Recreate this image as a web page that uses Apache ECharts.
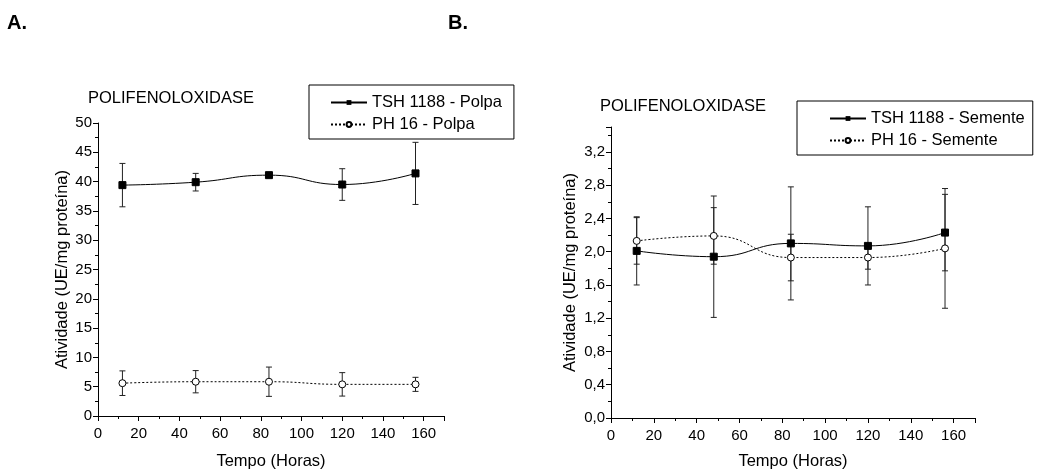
<!DOCTYPE html>
<html>
<head>
<meta charset="utf-8">
<script src="https://cdn.jsdelivr.net/npm/echarts@6/dist/echarts.min.js"></script>
<style>
html,body{margin:0;padding:0;background:#fff;}
#c{width:1039px;height:470px;}
</style>
</head>
<body>
<div id="c"></div>
<script>
// ---- data ----
const hours = [12, 48, 84, 120, 156];
// Panel A (Polpa)
const tshPolpa = [39.4, 39.9, 41.1, 39.5, 41.4];
const tshPolpaErr = [3.7, 1.5, 0.3, 2.7, 5.3];
const phPolpa = [5.6, 5.85, 5.85, 5.4, 5.4];
const phPolpaErr = [2.1, 1.9, 2.5, 2.0, 1.2];
// Panel B (Semente)
const tshSemente = [2.01, 1.94, 2.10, 2.07, 2.23];
const tshSementeErr = [0.41, 0.73, 0.68, 0.47, 0.46];
const phSemente = [2.13, 2.19, 1.93, 1.93, 2.04];
const phSementeErr = [0.28, 0.34, 0.28, 0.14, 0.72];
const seriesNamesA = ['TSH 1188 - Polpa', 'PH 16 - Polpa'];
const seriesNamesB = ['TSH 1188 - Semente', 'PH 16 - Semente'];
const titleText = 'POLIFENOLOXIDASE';
const yName = 'Atividade (UE/mg proteína)';
const xName = 'Tempo (Horas)';

const FONT = 'Liberation Sans, Arial, sans-serif';

function pts(vals) { return hours.map((h, i) => [h, vals[i]]); }
function errs(vals, e) { return hours.map((h, i) => [h, vals[i] - e[i], vals[i] + e[i]]); }

function errRender(params, api) {
  const x = api.value(0), lo = api.value(1), hi = api.value(2);
  const a = api.coord([x, hi]), b = api.coord([x, lo]);
  const w = 3;
  const st = { stroke: '#222', lineWidth: 1 };
  return {
    type: 'group',
    children: [
      { type: 'line', shape: { x1: a[0], y1: a[1], x2: b[0], y2: b[1] }, style: st },
      { type: 'line', shape: { x1: a[0] - w, y1: a[1], x2: a[0] + w, y2: a[1] }, style: st },
      { type: 'line', shape: { x1: b[0] - w, y1: b[1], x2: b[0] + w, y2: b[1] }, style: st }
    ]
  };
}

const axisCommon = {
  axisLine: { show: true, lineStyle: { color: '#000', width: 1 } },
  axisTick: { show: true, inside: false, length: 5, lineStyle: { color: '#000' } },
  minorTick: { show: true, splitNumber: 2, length: 3, lineStyle: { color: '#000' } },
  splitLine: { show: false },
  axisLabel: { color: '#000', fontFamily: FONT, fontSize: 15, margin: 6 },
  nameTextStyle: { color: '#000', fontFamily: FONT, fontSize: 16.5 }
};

function xAxis(gi, gap) {
  return Object.assign({}, axisCommon, {
    type: 'value', gridIndex: gi, min: 0, max: 170, interval: 20,
    name: xName, nameLocation: 'middle', nameGap: gap,
    axisLabel: Object.assign({}, axisCommon.axisLabel, { showMaxLabel: false, margin: 10 })
  });
}

function legend(names, left, top, padLeft, padRight) {
  return {
    data: names, orient: 'vertical', left: left, top: top,
    itemWidth: 36, itemHeight: 6, itemGap: 5,
    padding: [9, padRight, 6, padLeft],
    borderColor: '#000', borderWidth: 1,
    textStyle: { fontFamily: FONT, fontSize: 16.5, color: '#000' },
    selectedMode: false
  };
}

const option = {
  animation: false,
  backgroundColor: '#fff',
  title: [
    { text: 'A.', left: 2, top: 8, textStyle: { fontFamily: FONT, fontSize: 20, fontWeight: 'bold', color: '#000' } },
    { text: 'B.', left: 443, top: 8, textStyle: { fontFamily: FONT, fontSize: 20, fontWeight: 'bold', color: '#000' } },
    { text: titleText, left: 83, top: 85, textStyle: { fontFamily: FONT, fontSize: 16.5, fontWeight: 'normal', color: '#000' } },
    { text: titleText, left: 595, top: 93, textStyle: { fontFamily: FONT, fontSize: 16.5, fontWeight: 'normal', color: '#000' } }
  ],
  legend: [
    legend(seriesNamesA, 309, 85, 21, 12),
    legend(seriesNamesB, 797, 101, 32, 8)
  ],
  grid: [
    { left: 98, top: 123, width: 346, height: 293, outerBoundsMode: 'none', containLabel: false },
    { left: 611, top: 127, width: 364, height: 291, outerBoundsMode: 'none', containLabel: false }
  ],
  xAxis: [xAxis(0, 37), xAxis(1, 35)],
  yAxis: [
    Object.assign({}, axisCommon, {
      type: 'value', gridIndex: 0, min: 0, max: 50, interval: 5,
      name: yName, nameLocation: 'middle', nameGap: 27, nameRotate: 90, nameMoveOverlap: false
    }),
    Object.assign({}, axisCommon, {
      type: 'value', gridIndex: 1, min: 0, max: 3.5, interval: 0.4,
      name: yName, nameLocation: 'middle', nameGap: 32, nameRotate: 90, nameMoveOverlap: false,
      axisLabel: Object.assign({}, axisCommon.axisLabel, {
        showMaxLabel: false,
        formatter: v => v.toFixed(1).replace('.', ',')
      })
    })
  ],
  series: [
    { type: 'custom', xAxisIndex: 0, yAxisIndex: 0, renderItem: errRender, data: errs(tshPolpa, tshPolpaErr), z: 1, silent: true },
    { type: 'custom', xAxisIndex: 0, yAxisIndex: 0, renderItem: errRender, data: errs(phPolpa, phPolpaErr), z: 1, silent: true },
    { type: 'custom', xAxisIndex: 1, yAxisIndex: 1, renderItem: errRender, data: errs(tshSemente, tshSementeErr), z: 1, silent: true },
    { type: 'custom', xAxisIndex: 1, yAxisIndex: 1, renderItem: errRender, data: errs(phSemente, phSementeErr), z: 1, silent: true },
    {
      name: seriesNamesA[0], type: 'line', xAxisIndex: 0, yAxisIndex: 0, data: pts(tshPolpa),
      smooth: 0.5, symbol: 'rect', symbolSize: 7,
      lineStyle: { color: '#000', width: 1 }, itemStyle: { color: '#000', borderColor: '#000' }, z: 3
    },
    {
      name: seriesNamesA[1], type: 'line', xAxisIndex: 0, yAxisIndex: 0, data: pts(phPolpa),
      smooth: 0.5, symbol: 'circle', symbolSize: 7,
      lineStyle: { color: '#000', width: 1, type: [2, 2] }, itemStyle: { color: '#fff', borderColor: '#000', borderWidth: 1 }, z: 3
    },
    {
      name: seriesNamesB[0], type: 'line', xAxisIndex: 1, yAxisIndex: 1, data: pts(tshSemente),
      smooth: 0.5, symbol: 'rect', symbolSize: 7,
      lineStyle: { color: '#000', width: 1 }, itemStyle: { color: '#000', borderColor: '#000' }, z: 3
    },
    {
      name: seriesNamesB[1], type: 'line', xAxisIndex: 1, yAxisIndex: 1, data: pts(phSemente),
      smooth: 0.5, symbol: 'circle', symbolSize: 7,
      lineStyle: { color: '#000', width: 1, type: [2, 2] }, itemStyle: { color: '#fff', borderColor: '#000', borderWidth: 1 }, z: 3
    }
  ]
};

const chart = echarts.init(document.getElementById('c'), null, { renderer: 'canvas' });
chart.setOption(option);
</script>
</body>
</html>
